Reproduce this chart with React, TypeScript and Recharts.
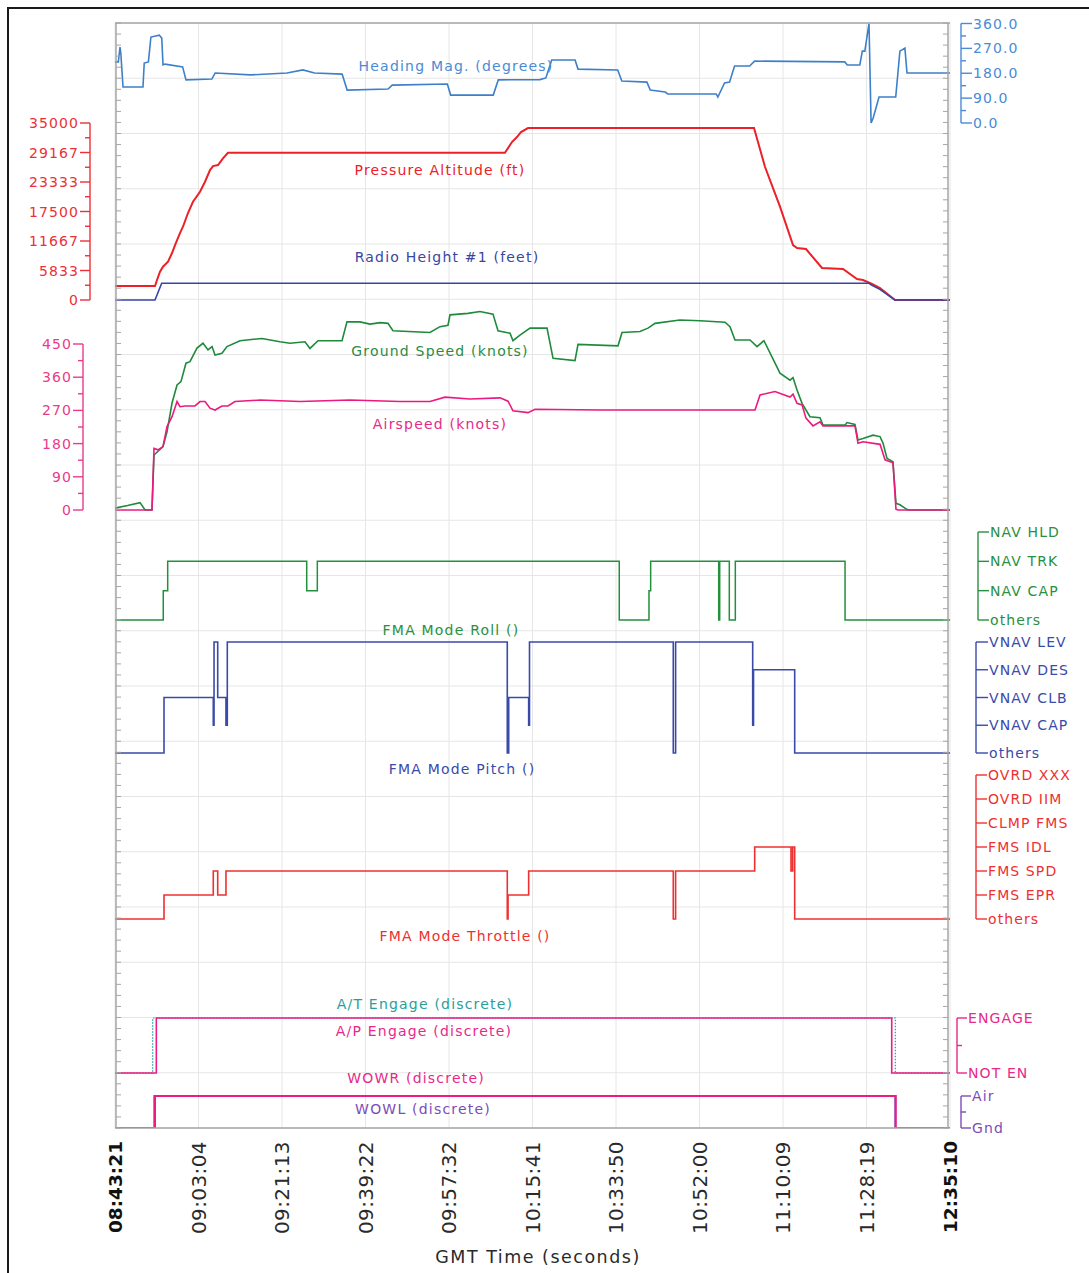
import React from "react";
import { LineChart, Line, XAxis, YAxis, CartesianGrid } from "recharts";

// page-sized chart, plot area placed where the reference has it
const W = 1089;
const H = 1273;
const PLOT = { left: 115, right: 950, top: 23, bottom: 1128 };
const FONT = "'DejaVu Sans', Verdana, sans-serif";
const FRAME = "#a6a6a6";

// time axis (t runs 0..100 across the plot, one tick every 10)
const timeTicks = [0, 10, 20, 30, 40, 50, 60, 70, 80, 90, 100];
const timeLabels = [
  "08:43:21", "09:03:04", "09:21:13", "09:39:22", "09:57:32", "10:15:41",
  "10:33:50", "10:52:00", "11:10:09", "11:28:19", "12:35:10",
];
const minorTimeTicks = Array.from({ length: 101 }, (_, i) => i);
const minorRowTicks = Array.from({ length: 101 }, (_, i) => i);
const rowTicks = Array.from({ length: 21 }, (_, i) => i);

// axis ticks and labels
const hdgTicks = [0, 90, 180, 270, 360];
const altTicks = [0, 5833, 11667, 17500, 23333, 29167, 35000];
const spdTicks = [0, 90, 180, 270, 360, 450];
const rollModes = ["others", "NAV CAP", "NAV TRK", "NAV HLD"];
const pitchModes = ["others", "VNAV CAP", "VNAV CLB", "VNAV DES", "VNAV LEV"];
const thrModes = ["others", "FMS EPR", "FMS SPD", "FMS IDL", "CLMP FMS", "OVRD IIM", "OVRD XXX"];
const engageStates = ["NOT EN", "ENGAGE"];
const wowStates = ["Gnd", "Air"];

// series, [t, value]
const heading = [
  [0, 221], [0.4, 221], [0.6, 275], [0.7, 250], [0.96, 130], [3.35, 130], [3.5, 217], [4.0, 221],
  [4.3, 311], [5.3, 318], [5.6, 307], [5.75, 210], [6.0, 213], [8.1, 203], [8.5, 156], [11.6, 159],
  [12.0, 181], [16.2, 174], [20.6, 181], [22.5, 192], [23.9, 181], [27.2, 177], [27.8, 119],
  [32.7, 123], [33.2, 137], [39.8, 141], [40.2, 101], [45.3, 101], [45.9, 156], [50.9, 157],
  [51.6, 163], [52.3, 228], [55.1, 228], [55.45, 195], [60.2, 192], [60.7, 152], [63.7, 148],
  [64.1, 119], [65.9, 112], [66.2, 105], [72.0, 105], [72.2, 94], [73.0, 145], [73.6, 148],
  [74.2, 206], [76.0, 206], [76.6, 224], [87.4, 221], [87.7, 210], [89.2, 210], [89.5, 260],
  [89.8, 260], [90.3, 360], [90.55, 0], [90.8, 18], [91.5, 94], [93.5, 94], [94.0, 260],
  [94.6, 271], [94.85, 181], [100, 181],
];
const pressureAlt = [
  [0, 2770], [4.79, 2770], [5.03, 3950], [5.39, 5600], [5.75, 6580], [6.35, 7570], [6.83, 9290],
  [7.19, 10870], [7.78, 13240], [8.14, 14490], [8.74, 17200], [9.34, 19430], [10.18, 21410],
  [10.78, 23390], [11.38, 25700], [11.74, 26490], [12.34, 26690], [12.93, 28010], [13.53, 29100],
  [46.7, 29100], [47.54, 31240], [48.14, 32230], [48.62, 33210], [49.46, 34000], [76.53, 34000],
  [77.84, 26350], [79.64, 18450], [81.2, 10870], [81.68, 10280], [82.75, 10080], [84.67, 6330],
  [87.19, 6130], [88.86, 4150], [89.58, 3950], [90.66, 3160], [91.62, 2370], [93.41, 0], [100, 0],
];
const radioHeight = [
  [0, 0], [4.79, 0], [5.59, 3300], [90.3, 3300], [90.6, 2970], [91.6, 2110], [93.4, 0], [100, 0],
];
const groundSpeed = [
  [0, 5], [1.5, 12], [3.0, 20], [3.6, 0], [4.43, 0], [4.67, 149], [5.75, 172], [6.23, 212],
  [6.83, 290], [7.43, 339], [7.9, 348], [8.5, 398], [8.98, 402], [9.82, 439], [10.54, 452],
  [11.14, 434], [11.62, 443], [11.98, 420], [12.81, 425], [13.41, 443], [14.97, 459], [17.6, 465],
  [19.76, 456], [20.96, 452], [22.75, 456], [23.35, 438], [24.31, 459], [27.19, 459], [27.78, 510],
  [29.34, 510], [30.54, 504], [31.74, 508], [32.69, 506], [33.29, 486], [37.72, 481], [38.92, 497],
  [39.88, 501], [40.12, 529], [42.28, 533], [43.71, 538], [45.27, 531], [45.87, 486], [47.31, 479],
  [47.66, 459], [48.5, 474], [49.7, 493], [51.74, 493], [52.46, 411], [55.09, 405], [55.45, 449],
  [60.24, 445], [60.72, 481], [62.87, 484], [63.83, 493], [64.67, 506], [67.66, 515], [70.06, 513],
  [73.05, 509], [73.65, 497], [74.25, 461], [76.05, 461], [76.89, 443], [77.72, 459], [79.64, 371],
  [80.84, 352], [81.2, 359], [81.68, 325], [82.28, 289], [83.23, 253], [84.43, 250], [84.79, 230],
  [87.43, 230], [87.66, 237], [88.62, 232], [88.98, 190], [89.58, 194], [90.78, 203], [91.62, 199],
  [91.98, 181], [92.46, 140], [93.17, 131], [93.53, 18], [94.01, 14], [94.61, 5], [94.97, 0], [100, 0],
];
const airspeed = [
  [0, 0], [4.43, 0], [4.67, 167], [5.15, 163], [5.75, 172], [6.23, 226], [6.83, 253], [7.43, 294],
  [7.78, 280], [8.38, 282], [9.58, 282], [10.18, 294], [10.78, 294], [11.38, 276], [11.98, 271],
  [12.81, 282], [13.53, 282], [14.37, 294], [17.37, 298], [22.16, 294], [28.14, 298], [34.13, 294],
  [37.72, 294], [39.52, 306], [42.51, 301], [46.11, 304], [47.07, 295], [47.66, 269], [49.46, 264],
  [50.3, 273], [58.08, 271], [70.06, 271], [76.65, 271], [77.25, 312], [79.04, 321], [80.84, 306],
  [81.2, 314], [81.68, 289], [82.28, 285], [82.75, 249], [83.59, 228], [84.43, 239], [84.79, 228],
  [88.62, 228], [88.98, 181], [89.58, 185], [91.62, 178], [92.22, 136], [93.17, 128], [93.53, 2],
  [93.77, 0], [100, 0],
];
const fmaRoll = [
  [0, 0], [5.78, 1], [6.31, 2], [22.96, 1], [24.23, 2], [60.39, 0], [63.95, 1], [64.15, 2],
  [72.3, 0], [72.42, 2], [73.57, 0], [74.29, 2], [87.43, 0], [100, 0],
];
const fmaPitch = [
  [0, 0], [5.87, 2], [11.77, 1], [11.86, 4], [12.3, 2], [13.29, 1], [13.45, 4], [46.98, 0],
  [47.15, 2], [49.54, 1], [49.64, 4], [66.86, 0], [67.14, 4], [76.37, 1], [76.47, 3], [81.4, 0],
  [100, 0],
];
const fmaThrottle = [
  [0, 0], [5.87, 1], [11.77, 2], [12.3, 1], [13.29, 2], [46.98, 0], [47.07, 1], [49.54, 2],
  [66.86, 0], [67.14, 2], [76.61, 3], [80.96, 2], [81.16, 3], [81.4, 0], [100, 0],
];
const atEngage = [[0, 0], [4.51, 1], [93.45, 0], [100, 0]];
const apEngage = [[0, 0], [4.95, 1], [93.02, 0], [100, 0]];
const wowr = [[0, 0], [4.79, 1], [93.5, 0], [100, 0]];
const wowl = [[0, 0], [4.71, 1], [93.45, 0], [100, 0]];

const pts = (a: number[][]) => a.map(([t, v]) => ({ t, v }));
const mids = (a: number[]) => a.slice(1).map((v, i) => (v + a[i]) / 2);

// each panel: value range and the pixel rows where lo/hi sit
type Panel = { lo: number; hi: number; top: number; bottom: number };
const P: Record<string, Panel> = {
  hdg: { lo: 0, hi: 360, top: 23.5, bottom: 123 },
  alt: { lo: 0, hi: 35000, top: 123, bottom: 300 },
  spd: { lo: 0, hi: 450, top: 344, bottom: 510 },
  roll: { lo: 0, hi: 3, top: 532, bottom: 620 },
  pitch: { lo: 0, hi: 4, top: 642, bottom: 753 },
  thr: { lo: 0, hi: 6, top: 775, bottom: 919 },
  eng: { lo: 0, hi: 1, top: 1018, bottom: 1073 },
  wow: { lo: 0, hi: 1, top: 1096, bottom: 1128 },
};
const domainOf = (p: Panel): [number, number] => {
  const k = (p.bottom - p.top) / (p.hi - p.lo);
  return [p.lo - (PLOT.bottom - p.bottom) / k, p.hi + (p.top - PLOT.top) / k];
};

type AxisLook = {
  x: number;
  side: "left" | "right";
  color: string;
  len: number;
  minorLen: number;
  panel: Panel;
  label: (v: number) => string | null;
};

const makeTick = (a: AxisLook) => (props: any) => {
  const { y, payload } = props;
  const v = payload.value;
  const text = a.label(v);
  const dir = a.side === "left" ? -1 : 1;
  const l = text === null ? a.minorLen : a.len;
  return (
    <g>
      {v === a.panel.lo && (
        <line x1={a.x} x2={a.x} y1={y} y2={y - (a.panel.bottom - a.panel.top)} stroke={a.color} strokeWidth={1.4} />
      )}
      <line x1={a.x} x2={a.x + dir * l} y1={y} y2={y} stroke={a.color} strokeWidth={1.4} />
      {text && (
        <text
          x={a.x + dir * (a.len + 1)}
          y={y}
          dy="0.36em"
          textAnchor={a.side === "left" ? "end" : "start"}
          fill={a.color}
          fontSize={14}
          fontFamily={FONT}
          letterSpacing={1.1}
        >
          {text}
        </text>
      )}
    </g>
  );
};

// ticks that only draw their tick line (keeps the tick list alive for the grid)
const noLabel = () => <g />;

const fromList = (majors: number[], fmt: (v: number, i: number) => string) => (v: number) => {
  const i = majors.indexOf(v);
  return i < 0 ? null : fmt(v, i);
};

const C = {
  hdg: "#3d80c9",
  alt: "#ec2027",
  radio: "#3846a2",
  gs: "#1f8a3b",
  as: "#ea1a80",
  roll: "#22903c",
  pitch: "#3a4aaa",
  thr: "#ee3030",
  at: "#2a9e9a",
  ap: "#ec1c84",
  wowl: "#7b4db8",
};

const TimeTick = (props: any) => {
  const { x, payload } = props;
  const i = timeTicks.indexOf(payload.value);
  const bold = i === 0 || i === timeTicks.length - 1;
  return (
    <text
      transform={`translate(${x}, ${PLOT.bottom + 13}) rotate(-90)`}
      textAnchor="end"
      dy="0.36em"
      fontSize={bold ? 18.5 : 20}
      fontFamily={FONT}
      letterSpacing={bold ? 0 : 0.4}
      fontWeight={bold ? "bold" : "normal"}
      fill={bold ? "#111" : "#2a2a2a"}
    >
      {timeLabels[i]}
    </text>
  );
};

const seriesLabels = [
  { text: "Heading Mag. (degrees)", x: 456, y: 66, color: "#4a8bd4" },
  { text: "Pressure Altitude (ft)", x: 440, y: 170, color: C.alt },
  { text: "Radio Height #1 (feet)", x: 447, y: 257, color: C.radio },
  { text: "Ground Speed (knots)", x: 440, y: 351, color: "#2a8c3f" },
  { text: "Airspeed (knots)", x: 440, y: 424, color: "#e8288a" },
  { text: "FMA Mode Roll ()", x: 451, y: 630, color: "#2a9040" },
  { text: "FMA Mode Pitch ()", x: 462, y: 769, color: C.pitch },
  { text: "FMA Mode Throttle ()", x: 465, y: 936, color: C.thr },
  { text: "A/T Engage (discrete)", x: 425, y: 1004, color: C.at },
  { text: "A/P Engage (discrete)", x: 424, y: 1031, color: "#e8288a" },
  { text: "WOWR (discrete)", x: 416, y: 1078, color: "#e8288a" },
  { text: "WOWL (discrete)", x: 423, y: 1109, color: C.wowl },
];

const panelAxis = (id: string, orientation: "left" | "right", ticks: number[], look: Omit<AxisLook, "panel">) => (
  <YAxis
    key={id}
    yAxisId={id}
    orientation={orientation}
    mirror
    width={1}
    type="number"
    domain={domainOf(P[id])}
    allowDataOverflow
    ticks={ticks}
    interval={0}
    axisLine={false}
    tickLine={false}
    tick={makeTick({ ...look, panel: P[id] })}
  />
);

const series = (id: string, yAxisId: string, data: number[][], color: string, width: number, step = false, dash?: string) => (
  <Line
    key={id}
    xAxisId="t"
    yAxisId={yAxisId}
    data={pts(data)}
    dataKey="v"
    type={step ? "stepAfter" : "linear"}
    stroke={color}
    strokeWidth={width}
    strokeDasharray={dash}
    dot={false}
    activeDot={false}
    isAnimationActive={false}
  />
);

export default function App() {
  return (
    <div style={{ position: "absolute", left: 0, top: 0, width: W, height: H, background: "#fff", fontFamily: FONT }}>
      <div
        style={{
          position: "absolute",
          left: 7,
          top: 7,
          width: W - 7,
          height: H - 7,
          boxSizing: "border-box",
          borderTop: "2px solid #1a1a1a",
          borderLeft: "2px solid #1a1a1a",
        }}
      />
      <div style={{ position: "absolute", left: 0, top: 0 }}>
        <LineChart
          width={W}
          height={H}
          margin={{ top: PLOT.top, left: PLOT.left, right: W - PLOT.right, bottom: H - PLOT.bottom }}
        >
          <XAxis xAxisId="t" dataKey="t" type="number" orientation="bottom" mirror domain={[0, 100]}
            allowDataOverflow ticks={timeTicks} interval={0} height={1} axisLine={false} tickLine={false}
            tick={<TimeTick />} />
          <XAxis xAxisId="minT" type="number" orientation="top" mirror domain={[0, 100]} allowDataOverflow
            ticks={minorTimeTicks} interval={0} height={1} tick={noLabel} tickSize={5} tickLine={{ stroke: FRAME }}
            axisLine={{ stroke: FRAME, strokeWidth: 1.5 }} />
          <XAxis xAxisId="minB" type="number" orientation="bottom" mirror domain={[0, 100]} allowDataOverflow
            ticks={minorTimeTicks} interval={0} height={1} tick={noLabel} tickSize={5} tickLine={{ stroke: FRAME }}
            axisLine={{ stroke: FRAME, strokeWidth: 1.5 }} />

          <YAxis yAxisId="minL" type="number" orientation="left" mirror width={1} domain={[0, 100]} allowDataOverflow
            ticks={minorRowTicks} interval={0} tick={noLabel} tickSize={5} tickLine={{ stroke: FRAME }}
            axisLine={{ stroke: FRAME, strokeWidth: 1.5 }} />
          <YAxis yAxisId="minR" type="number" orientation="right" mirror width={1} domain={[0, 100]} allowDataOverflow
            ticks={minorRowTicks} interval={0} tick={noLabel} tickSize={5} tickLine={{ stroke: FRAME }}
            axisLine={{ stroke: FRAME, strokeWidth: 1.5 }} />
          <YAxis yAxisId="rows" type="number" orientation="left" mirror width={1} domain={[0, 20]} allowDataOverflow
            ticks={rowTicks} interval={0} tick={noLabel} tickLine={false} axisLine={false} />

          {panelAxis("hdg", "right", [...hdgTicks, ...mids(hdgTicks)], {
            x: 961, side: "right", color: "#4a8bd4", len: 11, minorLen: 5,
            label: fromList(hdgTicks, (v) => v.toFixed(1)),
          })}
          {panelAxis("alt", "left", [...altTicks, ...mids(altTicks)], {
            x: 90, side: "left", color: "#ec3036", len: 10, minorLen: 5,
            label: fromList(altTicks, (v) => String(v)),
          })}
          {panelAxis("spd", "left", [...spdTicks, ...mids(spdTicks)], {
            x: 83, side: "left", color: "#ea3a8c", len: 10, minorLen: 5,
            label: fromList(spdTicks, (v) => String(v)),
          })}
          {panelAxis("roll", "right", rollModes.map((_, i) => i), {
            x: 978, side: "right", color: "#2a9040", len: 11, minorLen: 5,
            label: (v) => rollModes[v] ?? null,
          })}
          {panelAxis("pitch", "right", pitchModes.map((_, i) => i), {
            x: 976, side: "right", color: C.pitch, len: 12, minorLen: 5,
            label: (v) => pitchModes[v] ?? null,
          })}
          {panelAxis("thr", "right", thrModes.map((_, i) => i), {
            x: 976, side: "right", color: C.thr, len: 11, minorLen: 5,
            label: (v) => thrModes[v] ?? null,
          })}
          {panelAxis("eng", "right", [0, 0.5, 1], {
            x: 957, side: "right", color: "#e8288a", len: 10, minorLen: 5,
            label: (v) => engageStates[v] ?? null,
          })}
          {panelAxis("wow", "right", [0, 0.5, 1], {
            x: 961, side: "right", color: C.wowl, len: 10, minorLen: 5,
            label: (v) => wowStates[v] ?? null,
          })}

          <CartesianGrid xAxisId="t" yAxisId="rows" stroke="#e6e6e6" strokeWidth={1} />

          {series("hdg", "hdg", heading, C.hdg, 1.6)}
          {series("alt", "alt", pressureAlt, C.alt, 2)}
          {series("radio", "alt", radioHeight, C.radio, 1.6)}
          {series("gs", "spd", groundSpeed, C.gs, 1.6)}
          {series("as", "spd", airspeed, C.as, 1.6)}
          {series("roll", "roll", fmaRoll, C.roll, 1.5, true)}
          {series("pitch", "pitch", fmaPitch, C.pitch, 1.6, true)}
          {series("thr", "thr", fmaThrottle, C.thr, 1.6, true)}
          {series("at", "eng", atEngage, C.at, 1.2, true, "1.5 1.5")}
          {series("ap", "eng", apEngage, C.ap, 1.6, true)}
          {series("wowl", "wow", wowl, C.wowl, 2, true)}
          {series("wowr", "wow", wowr, C.ap, 2, true)}
        </LineChart>
      </div>
      {seriesLabels.map((l) => (
        <div
          key={l.text}
          style={{
            position: "absolute",
            left: l.x,
            top: l.y,
            transform: "translate(-50%, -50%)",
            color: l.color,
            fontSize: 14,
            letterSpacing: 1.2,
            whiteSpace: "nowrap",
            lineHeight: 1,
          }}
        >
          {l.text}
        </div>
      ))}
      <div
        style={{
          position: "absolute",
          left: 538,
          top: 1258,
          transform: "translate(-50%, -50%)",
          color: "#2a2a2a",
          fontSize: 17.5,
          letterSpacing: 1.5,
          whiteSpace: "nowrap",
          lineHeight: 1,
        }}
      >
        GMT Time (seconds)
      </div>
    </div>
  );
}
